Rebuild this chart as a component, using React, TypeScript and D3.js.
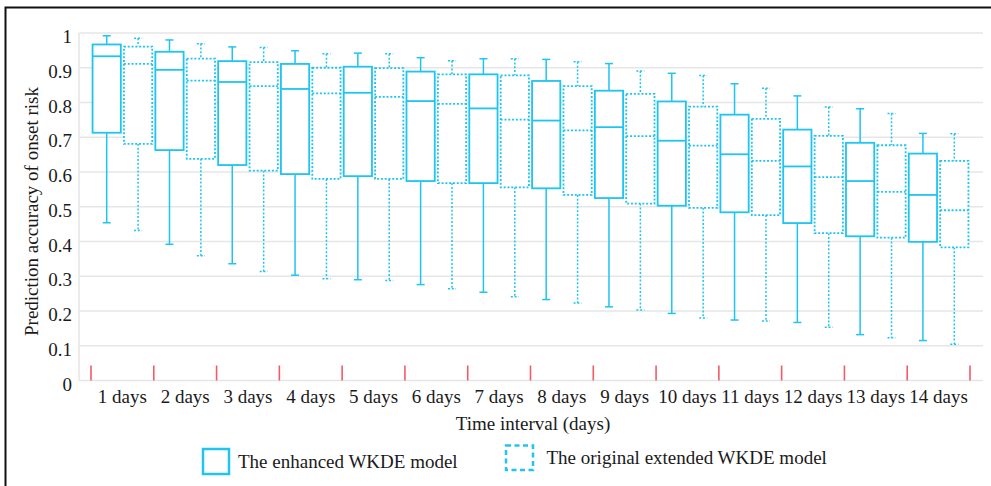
import React from "react";
import * as d3 from "d3";

const categories = ["1 days","2 days","3 days","4 days","5 days","6 days","7 days","8 days","9 days","10 days","11 days","12 days","13 days","14 days"];

const enhancedMin = [0.454,0.392,0.336,0.303,0.290,0.276,0.254,0.233,0.212,0.193,0.174,0.167,0.132,0.115];
const enhancedQ1 = [0.713,0.663,0.620,0.594,0.588,0.574,0.568,0.553,0.525,0.503,0.484,0.453,0.415,0.399];
const enhancedMedian = [0.933,0.894,0.859,0.839,0.828,0.804,0.783,0.748,0.729,0.690,0.651,0.616,0.574,0.534];
const enhancedQ3 = [0.967,0.946,0.919,0.911,0.903,0.889,0.881,0.862,0.834,0.803,0.765,0.722,0.684,0.653];
const enhancedMax = [0.992,0.980,0.960,0.949,0.942,0.929,0.926,0.924,0.912,0.884,0.854,0.819,0.782,0.711];

const originalMin = [0.432,0.359,0.314,0.293,0.288,0.264,0.241,0.223,0.203,0.180,0.171,0.153,0.123,0.104];
const originalQ1 = [0.681,0.638,0.604,0.580,0.580,0.568,0.556,0.534,0.509,0.497,0.476,0.424,0.411,0.383];
const originalMedian = [0.911,0.863,0.847,0.826,0.816,0.796,0.751,0.720,0.703,0.676,0.632,0.585,0.543,0.490];
const originalQ3 = [0.961,0.926,0.916,0.900,0.899,0.881,0.878,0.847,0.825,0.788,0.753,0.704,0.677,0.632];
const originalMax = [0.985,0.969,0.958,0.940,0.940,0.920,0.926,0.917,0.891,0.878,0.841,0.787,0.768,0.710];

const yTicks = [0,0.1,0.2,0.3,0.4,0.5,0.6,0.7,0.8,0.9,1];
const yTickLabels = ["0","0.1","0.2","0.3","0.4","0.5","0.6","0.7","0.8","0.9","1"];

const seriesNames = ["The enhanced WKDE model","The original extended WKDE model"];
const xTitle = "Time interval (days)";
const yTitle = "Prediction accuracy of onset risk";

const W = 991, H = 486;
const COLOR = "#1fc4f0";
const FONT = "'Liberation Serif', 'Times New Roman', serif";

export default function App() {
  const x = d3.scaleBand<string>().domain(categories).range([91, 970]).padding(0);
  const y = d3.scaleLinear().domain([0, 1]).range([380.5, 33]);
  const bw = x.bandwidth();
  const boxW = bw * 0.45;
  const off = bw * 0.25;
  const capW = 8;

  const series = [
    { min: enhancedMin, q1: enhancedQ1, med: enhancedMedian, q3: enhancedQ3, max: enhancedMax, dash: undefined as string | undefined, sign: -1 },
    { min: originalMin, q1: originalQ1, med: originalMedian, q3: originalQ3, max: originalMax, dash: "2,1.8", sign: 1 },
  ];

  const boundaries = [...categories.map((c) => x(c) as number), (x(categories[categories.length - 1]) as number) + bw];

  return (
    <svg width={W} height={H} style={{ position: "absolute", left: 0, top: 0, background: "#fff" }} fontFamily={FONT}>
      <rect x={5.5} y={7.5} width={995} height={490} fill="none" stroke="#111" strokeWidth={2} />
      {yTicks.map((t, i) => (
        <line key={"g" + i} x1={79} x2={983} y1={y(t)} y2={y(t)} stroke="#e6e6e6" strokeWidth={1.6} />
      ))}
      <line x1={79} x2={79} y1={y(1)} y2={y(0)} stroke="#e6e6e6" strokeWidth={1.6} />
      {yTicks.map((t, i) => (
        <text key={"yl" + i} x={72} y={y(t) + 10} textAnchor="end" fontSize={19} fill="#1a1a1a">{yTickLabels[i]}</text>
      ))}
      {boundaries.map((b, i) => (
        <line key={"rt" + i} x1={b} x2={b} y1={y(0)} y2={y(0) - 15} stroke="#f25b66" strokeWidth={1.6} />
      ))}
      {categories.map((c) => (
        <text key={"xl" + c} x={(x(c) as number) + bw / 2} y={403} textAnchor="middle" fontSize={19} fill="#1a1a1a">{c}</text>
      ))}
      {series.map((s, si) => (
        <g key={"s" + si} stroke={COLOR} fill="none" strokeWidth={1.8} strokeDasharray={s.dash}>
          {categories.map((c, i) => {
            const cx = (x(c) as number) + bw / 2 + s.sign * off;
            return (
              <g key={c}>
                <line x1={cx} x2={cx} y1={y(s.max[i])} y2={y(s.q3[i])} strokeWidth={1.5} />
                <line x1={cx} x2={cx} y1={y(s.q1[i])} y2={y(s.min[i])} strokeWidth={1.5} />
                <line x1={cx - capW / 2} x2={cx + capW / 2} y1={y(s.max[i])} y2={y(s.max[i])} strokeWidth={1.5} />
                <line x1={cx - capW / 2} x2={cx + capW / 2} y1={y(s.min[i])} y2={y(s.min[i])} strokeWidth={1.5} />
                <rect x={cx - boxW / 2} y={y(s.q3[i])} width={boxW} height={y(s.q1[i]) - y(s.q3[i])} fill="#fff" />
                <line x1={cx - boxW / 2} x2={cx + boxW / 2} y1={y(s.med[i])} y2={y(s.med[i])} />
              </g>
            );
          })}
        </g>
      ))}
      <text x={533} y={430} textAnchor="middle" fontSize={19} fill="#1a1a1a">{xTitle}</text>
      <text transform={`translate(37.5, 211.5) rotate(-90)`} textAnchor="middle" fontSize={19} fill="#1a1a1a">{yTitle}</text>
      <rect x={203} y={449} width={26} height={25} fill="none" stroke={COLOR} strokeWidth={2.5} />
      <text x={238} y={468} fontSize={19} fill="#1a1a1a">{seriesNames[0]}</text>
      <rect x={506} y={445.5} width={27} height={24.5} fill="none" stroke={COLOR} strokeWidth={2.5} strokeDasharray="5,3.5" />
      <text x={546.5} y={463.5} fontSize={19} fill="#1a1a1a">{seriesNames[1]}</text>
    </svg>
  );
}
